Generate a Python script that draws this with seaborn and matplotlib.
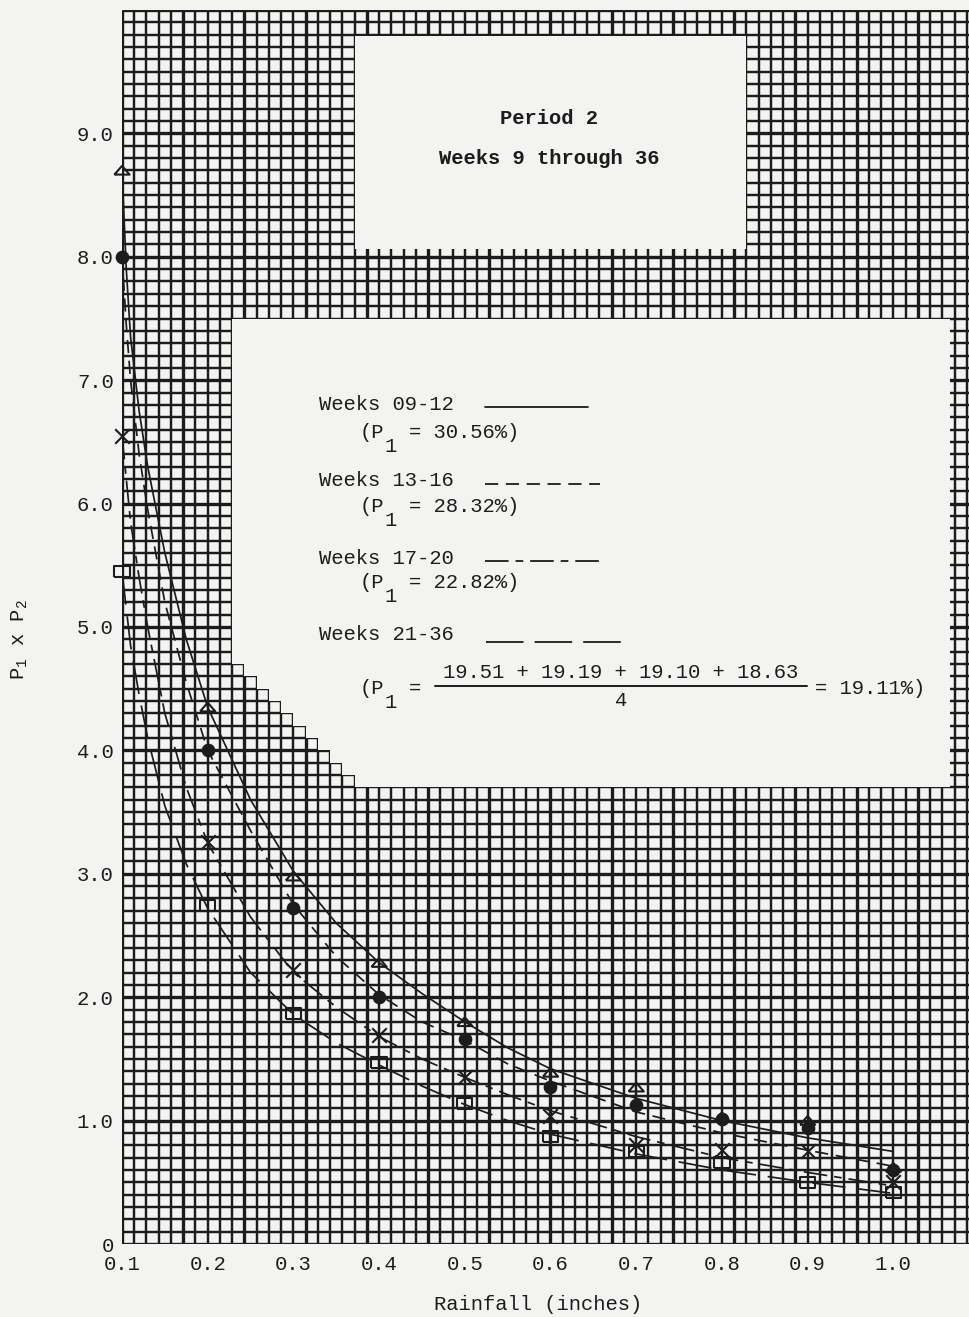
import numpy as np
import pandas as pd
import matplotlib.pyplot as plt
import seaborn as sns
from matplotlib.patches import Polygon, Rectangle
from matplotlib.lines import Line2D

# rainfall (inches) where the points were plotted
rain = [0.1, 0.2, 0.3, 0.4, 0.5, 0.6, 0.7, 0.8, 0.9, 1.0]

# P1 x P2 points per period group
wk_09_12 = [8.70, 4.35, 2.98, 2.28, 1.80, 1.39, 1.27, 1.03, 1.00, 0.62]
wk_13_16 = [8.00, 4.00, 2.72, 2.00, 1.66, 1.27, 1.13, 1.01, 0.94, 0.60]
wk_17_20 = [6.55, 3.26, 2.22, 1.69, 1.35, 1.04, 0.80, 0.76, 0.75, 0.50]
wk_21_36 = [5.45, 2.74, 1.87, 1.47, 1.14, 0.87, 0.75, 0.66, 0.50, 0.42]

# fitted curves
curve_x = [0.1, 0.105, 0.11, 0.12, 0.13, 0.15, 0.175, 0.2, 0.25, 0.3, 0.35,
           0.4, 0.45, 0.5, 0.55, 0.6, 0.7, 0.8, 0.9, 1.0]
fit_09_12 = [8.7, 7.9, 7.35, 6.75, 6.3, 5.6, 4.9, 4.35, 3.6, 3.02, 2.6,
             2.28, 2.03, 1.80, 1.59, 1.42, 1.18, 1.00, 0.86, 0.75]
fit_13_16 = [8.0, 7.45, 7.0, 6.4, 5.95, 5.2, 4.55, 4.0, 3.35, 2.75, 2.33,
             2.02, 1.80, 1.65, 1.46, 1.32, 1.07, 0.90, 0.76, 0.63]
fit_17_20 = [6.55, 6.2, 5.85, 5.4, 5.0, 4.3, 3.7, 3.25, 2.65, 2.2, 1.92,
             1.68, 1.50, 1.35, 1.21, 1.08, 0.87, 0.70, 0.58, 0.47]
fit_21_36 = [5.45, 5.15, 4.85, 4.45, 4.1, 3.55, 3.08, 2.72, 2.2, 1.86, 1.63,
             1.45, 1.28, 1.13, 1.00, 0.89, 0.73, 0.60, 0.50, 0.41]

x_ticks = [0.1, 0.2, 0.3, 0.4, 0.5, 0.6, 0.7, 0.8, 0.9, 1.0]
x_labels = ["0.1", "0.2", "0.3", "0.4", "0.5", "0.6", "0.7", "0.8", "0.9", "1.0"]
y_ticks = [0, 1, 2, 3, 4, 5, 6, 7, 8, 9]
y_labels = ["0", "1.0", "2.0", "3.0", "4.0", "5.0", "6.0", "7.0", "8.0", "9.0"]

PAPER = "#f3f3f1"
INK = "#1c1c1c"
W, H = 970, 1317

sns.set_style("white")
plt.rcParams["font.family"] = ["Liberation Mono", "DejaVu Sans"]
plt.rcParams["mathtext.fontset"] = "custom"
plt.rcParams["mathtext.rm"] = "Liberation Mono"
plt.rcParams["lines.scale_dashes"] = False

FS = 14.8


def fx(p):
    return p / W


def fy(p):
    return 1 - p / H


fig = plt.figure(figsize=(9.7, 13.17), dpi=100, facecolor=PAPER)
ax = fig.add_axes([fx(122), fy(1244), (W - 122) / W, 1234 / H])
ax.set_facecolor(PAPER)
xmax = 0.1 + 848 / 857
ax.set_xlim(0.1, xmax)
ax.set_ylim(0, 10)
for s in ax.spines.values():
    s.set_visible(False)

# graph paper
cells_x = 0.1 + np.arange(0, 70) / 70
cells_y = np.arange(0, 101) / 10
for i, v in enumerate(cells_x):
    ax.vlines(v, 0, 10, color=INK, lw=2.4 if i % 5 == 0 else 1.75, zorder=1)
for i, v in enumerate(cells_y):
    ax.hlines(v, 0.1, xmax, color=INK, lw=2.4 if i % 10 == 0 else 1.75, zorder=1)


def cx(k):
    return 0.1 + k / 70


# blank label areas cut out of the paper
ax.add_patch(Rectangle((cx(19), 8.06), cx(51) - cx(19), 9.79 - 8.06,
                       facecolor=PAPER, edgecolor="none", zorder=2))
stair = [(cx(9), 7.5), (cx(67.6), 7.5), (cx(67.6), 3.7)]
for k in range(19, 9, -1):
    lvl = 3.7 + 0.1 * (19 - k)
    stair += [(cx(k), lvl), (cx(k), lvl + 0.1)]
stair += [(cx(9), 4.7)]
ax.add_patch(Polygon(stair, closed=True, facecolor=PAPER, edgecolor="none", zorder=2))

# fitted curves
styles = {
    "solid": "-",
    "short": (0, (9.5, 5.5)),
    "longshort": (0, (17, 5, 5.5, 5)),
    "long": (0, (24, 8.5)),
}
curves = [(fit_09_12, styles["solid"]), (fit_13_16, styles["short"]),
          (fit_17_20, styles["longshort"]), (fit_21_36, styles["long"])]
for vals, ls in curves:
    sns.lineplot(x=curve_x, y=vals, ax=ax, color=INK, lw=1.25, linestyle=ls,
                 sort=False, estimator=None, zorder=3)

# plotted points
tri = [(-1, -0.55), (1, -0.55), (0, 0.6), (-1, -0.55)]
box = [(-1, -0.72), (1, -0.72), (1, 0.72), (-1, 0.72), (-1, -0.72)]
pts = [(wk_09_12, tri, 120, True), (wk_13_16, "o", 70, False),
       (wk_17_20, "x", 110, False), (wk_21_36, box, 120, True)]
for vals, mk, size, hollow in pts:
    sns.scatterplot(x=rain, y=vals, ax=ax, marker=mk, s=size, color=INK,
                    edgecolor=INK, linewidth=1.5, zorder=4, clip_on=False)
    if hollow:
        ax.collections[-1].set_facecolor("none")

ax.set_xticks(x_ticks)
ax.set_xticklabels(x_labels)
ax.set_yticks(y_ticks)
ax.set_yticklabels(y_labels)
ax.tick_params(axis="both", length=0, labelsize=FS, colors=INK)
ax.tick_params(axis="x", pad=8)
ax.tick_params(axis="y", pad=6)
ax.set_xlabel("")
ax.set_ylabel("")

# axis titles
fig.text(fx(538), fy(1304), "Rainfall (inches)", fontsize=FS, color=INK,
         ha="center", va="center")
fig.text(fx(20), fy(640), r"P$_\mathregular{1}$ x P$_\mathregular{2}$", fontsize=FS,
         color=INK, ha="center", va="center", rotation=90)

# heading
fig.text(fx(549), fy(119), "Period 2", fontsize=FS, color=INK, ha="center",
         va="center", fontweight="bold")
fig.text(fx(549), fy(158), "Weeks 9 through 36", fontsize=FS, color=INK,
         ha="center", va="center", fontweight="bold")

# key
cw = 0.6 * FS * 100 / 72


def p1_row(y, rest):
    fig.text(fx(360), fy(y), "(P", fontsize=FS, color=INK, ha="left", va="center")
    fig.text(fx(360 + 2 * cw), fy(y + 14), "1", fontsize=FS, color=INK,
             ha="left", va="center")
    fig.text(fx(360 + 4 * cw), fy(y), rest, fontsize=FS, color=INK,
             ha="left", va="center")


key_rows = [("Weeks 09-12", "= 30.56%)", 404, 433, styles["solid"], 485, 588),
            ("Weeks 13-16", "= 28.32%)", 481, 507, styles["short"], 485, 600),
            ("Weeks 17-20", "= 22.82%)", 558, 583, styles["longshort"], 485, 600)]
for name, pct, ya, yb, ls, x0, x1 in key_rows:
    fig.text(fx(319), fy(ya), name, fontsize=FS, color=INK, ha="left", va="center")
    p1_row(yb, pct)
    fig.add_artist(Line2D([fx(x0), fx(x1)], [fy(ya + 3), fy(ya + 3)], color=INK,
                          lw=1.3, linestyle=ls, transform=fig.transFigure))

fig.text(fx(319), fy(634), "Weeks 21-36", fontsize=FS, color=INK, ha="left", va="center")
fig.add_artist(Line2D([fx(486), fx(628)], [fy(642), fy(642)], color=INK, lw=1.3,
                      linestyle=(0, (27, 8)), transform=fig.transFigure))
p1_row(688, "=")
fig.text(fx(621), fy(672), "19.51 + 19.19 + 19.10 + 18.63", fontsize=FS, color=INK,
         ha="center", va="center")
fig.add_artist(Line2D([fx(435), fx(807)], [fy(686), fy(686)], color=INK, lw=1.4,
                      transform=fig.transFigure))
fig.text(fx(621), fy(701), "4", fontsize=FS, color=INK, ha="center", va="center")
fig.text(fx(815), fy(688), "= 19.11%)", fontsize=FS, color=INK, ha="left", va="center")

fig.savefig("out.png", dpi=100, facecolor=PAPER)
